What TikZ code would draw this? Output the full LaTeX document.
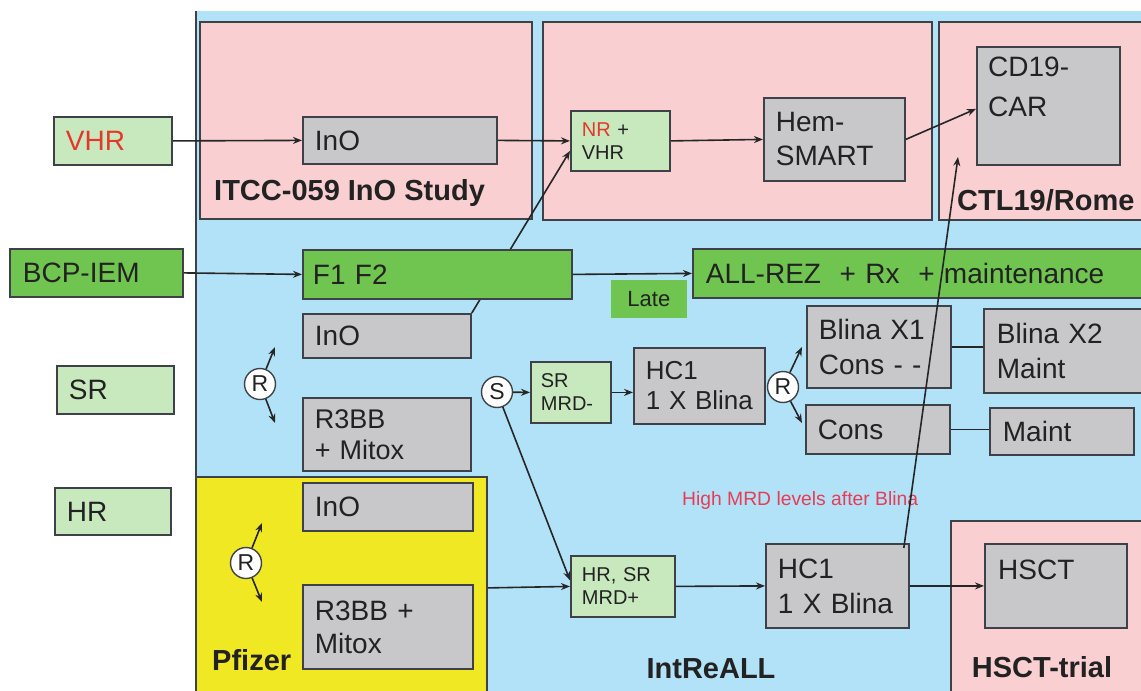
\documentclass[tikz,border=0pt]{standalone}
\usepackage{fontspec}
\setmainfont{Liberation Sans}
\usetikzlibrary{arrows.meta,calc}
\pgfdeclarelayer{back}
\pgfdeclarelayer{mid}
\pgfsetlayers{back,mid,main}
\definecolor{bgblue}{RGB}{178,226,247}
\definecolor{pinkc}{RGB}{250,207,209}
\definecolor{boxgray}{RGB}{200,200,202}
\definecolor{lgreen}{RGB}{200,232,190}
\definecolor{dgreen}{RGB}{112,196,80}
\definecolor{yellowc}{RGB}{240,232,34}
\definecolor{edge}{RGB}{62,66,72}
\definecolor{txt}{RGB}{34,34,34}
\definecolor{redt}{RGB}{230,55,45}
\definecolor{redm}{RGB}{232,60,85}
\begin{document}
\begin{tikzpicture}[x=1pt,y=-1pt,
  base/.style={draw=edge, line width=1.8pt, inner xsep=12pt, inner ysep=0pt,
    align=left, anchor=north west, text=txt, font=\fontsize{28}{34}\selectfont},
  graybox/.style={base, fill=boxgray},
  lgbox/.style={base, fill=lgreen},
  dgbox/.style={base, fill=dgreen},
  smalltxt/.style={inner xsep=11pt, font=\fontsize{20}{23}\selectfont},
  cont/.style={draw=edge, line width=1.8pt, anchor=north west, inner sep=0pt},
  circ/.style={circle, draw=edge, fill=white, line width=1.4pt, minimum size=31pt,
    inner sep=0pt, text=txt, font=\fontsize{23}{23}\selectfont},
  arr/.style={-{Stealth[length=9pt,width=7pt]}, line width=1.6pt, draw=black!85},
  ln/.style={line width=1.6pt, draw=black!85},
  lbl/.style={font=\bfseries\fontsize{29}{34}\selectfont, text=txt, inner sep=0pt},
  toplbl/.style={anchor=north west, align=left, text=txt, inner xsep=12pt,
    font=\fontsize{28}{34}\selectfont}
]
\useasboundingbox (0,0) rectangle (1141,691);

% ---------- containers ----------
\begin{pgfonlayer}{back}
\fill[bgblue] (196,11) rectangle (1141,691);
\draw[edge, line width=2.4pt] (196,11) -- (196,691);
\node[cont, fill=pinkc, minimum width=332pt, minimum height=197pt] (itcc) at (199,21) {};
\node[cont, fill=pinkc, minimum width=389pt, minimum height=198pt] (hem) at (542,21) {};
\node[cont, fill=pinkc, minimum width=210pt, minimum height=198pt] (ctl) at (938,21) {};
\node[cont, fill=yellowc, minimum width=291pt, minimum height=222pt] (pfz) at (195,476) {};
\node[cont, fill=pinkc, minimum width=200pt, minimum height=180pt] (hsctt) at (950,520) {};
\end{pgfonlayer}

% ---------- labels of containers ----------
\node[lbl, anchor=base west] (itccl) at (214,200) {ITCC-059 InO Study};
\node[lbl, anchor=base west] (ctll) at (957,210) {CTL19/Rome};
\node[lbl, anchor=base west] (pfl) at (212,670) {Pfizer};
\node[lbl, anchor=base] (intl) at (711,678) {IntReALL};
\node[lbl, anchor=base] (hsctl) at (1042,677) {HSCT-trial};
\node[anchor=base west, inner sep=0pt, text=redm, font=\fontsize{19.3}{21}\selectfont] (mrd) at (682,505) {High MRD levels after Blina};

% ---------- boxes ----------
\node[lgbox, minimum width=118pt, minimum height=48pt, text width=94pt] (vhr) at (53,116) {\color{redt}VHR};
\node[graybox, minimum width=194pt, minimum height=47pt, text width=170pt] (ino1) at (302,116) {InO};
\node[lgbox, smalltxt, minimum width=99pt, minimum height=60pt, text width=77pt] (nrvhr) at (570,110) {{\color{redt}NR} +\\VHR};
\node[graybox, minimum width=141pt, minimum height=83pt, text width=117pt] (hems) at (763,97) {Hem-\\SMART};
\node[graybox, minimum width=143pt, minimum height=118pt,
  label={[toplbl, inner ysep=11pt]north west:CD19-\\[6pt]CAR}] (cd19) at (976,46) {};

\node[dgbox, minimum width=173pt, minimum height=48pt, text width=147pt, inner xsep=13pt] (bcp) at (9,248) {BCP-IEM};
\node[dgbox, minimum width=269pt, minimum height=49pt, text width=249pt, inner xsep=10pt] (f1f2) at (302,249) {F1 F2};
\node[dgbox, minimum width=460pt, minimum height=49pt, text width=434pt, inner xsep=13pt] (allrez) at (692,248) {ALL-REZ\ \ + Rx\ \ + maintenance};
\node[dgbox, draw=none, minimum width=76pt, minimum height=38pt, text width=76pt, inner xsep=0pt,
  align=center, font=\fontsize{22}{24}\selectfont] (late) at (610,279) {Late};

\node[graybox, minimum width=168pt, minimum height=44pt, text width=144pt] (ino2) at (302,313) {InO};
\node[lgbox, minimum width=117pt, minimum height=48pt, text width=93pt] (sr) at (56,365) {SR};
\node[circ] (r1) at (260,384) {R};
\node[graybox, minimum width=168pt, minimum height=73pt, text width=144pt,
  font=\fontsize{27}{31}\selectfont] (r3bb1) at (302,397) {R3BB\\+ Mitox};

\node[circ] (s) at (497,392) {S};
\node[lgbox, smalltxt, inner xsep=10pt, minimum width=80pt, minimum height=61pt, text width=60pt] (srm) at (530,361) {SR\\MRD-};
\node[graybox, minimum width=131pt, minimum height=76pt, text width=107pt,
  font=\fontsize{26}{30}\selectfont] (hc1a) at (633,347) {HC1\\1 X Blina};
\node[circ] (r2) at (783,387) {R};
\node[graybox, minimum width=144pt, minimum height=82pt, text width=120pt,
  font=\fontsize{28}{35}\selectfont] (bx1) at (806,305) {Blina X1\\Cons - -};
\node[graybox, minimum width=165pt, minimum height=84pt, text width=139pt, inner xsep=13pt,
  font=\fontsize{28}{35}\selectfont] (bx2) at (983,308) {Blina X2\\Maint};
\node[graybox, minimum width=144pt, minimum height=49pt, text width=120pt] (cons) at (805,404) {Cons};
\node[graybox, minimum width=144pt, minimum height=47pt, text width=118pt, inner xsep=13pt] (maint) at (989,407) {Maint};

\node[lgbox, minimum width=116pt, minimum height=47pt, text width=92pt] (hr) at (54,487) {HR};
\node[graybox, minimum width=170pt, minimum height=48pt, text width=146pt] (ino3) at (302,482) {InO};
\node[circ] (r3) at (246,563) {R};
\node[graybox, minimum width=170pt, minimum height=84pt, text width=146pt,
  font=\fontsize{28}{33}\selectfont] (r3bb2) at (302,584) {R3BB +\\Mitox};

\node[lgbox, smalltxt, minimum width=104pt, minimum height=61pt, text width=82pt] (hrm) at (570,555) {HR, SR\\MRD+};
\node[graybox, minimum width=143pt, minimum height=84pt, text width=119pt,
  font=\fontsize{28}{35}\selectfont] (hc1b) at (765,543) {HC1\\1 X Blina};
\node[graybox, minimum width=142pt, minimum height=84pt,
  label={[toplbl, inner xsep=14pt, inner ysep=17pt]north west:HSCT}] (hsct) at (984,543) {};

% ---------- free ends ----------
\coordinate (r1u) at (275,347);
\coordinate (r1d) at (275,423);
\coordinate (r2u) at (802,347);
\coordinate (r2d) at (802,423);
\coordinate (r3u) at (262,523);
\coordinate (r3d) at (262,602);
\coordinate (ctlt) at (958,157);

% ---------- connectors ----------
\begin{pgfonlayer}{mid}
\draw[arr] (ino2.north east) -- ([yshift=-10pt]nrvhr.west);
\end{pgfonlayer}
\draw[arr] (vhr.east) -- (ino1.west);
\draw[arr] (ino1.east) -- (nrvhr.west);
\draw[arr] (nrvhr.east) -- (hems.west);
\draw[arr] (hems.east) -- ([yshift=-3pt]cd19.west);
\draw[arr] (bcp.east) -- (f1f2.west);
\draw[arr] (f1f2.east) -- (allrez.west);
\draw[arr] (r1) -- (r1u);
\draw[arr] (r1) -- (r1d);
\draw[arr] (s) -- (srm.west);
\draw[arr] (srm.east) -- (srm.east -| hc1a.west);
\draw[arr] (s) -- ([yshift=6pt]hrm.west);
\draw[arr] (r2) -- (r2u);
\draw[arr] (r2) -- (r2d);
\draw[ln] (bx1.east) -- (bx1.east -| bx2.west);
\draw[ln] (cons.east) -- (cons.east -| maint.west);
\draw[arr] (r3) -- (r3u);
\draw[arr] (r3) -- (r3d);
\draw[arr] (pfz.east) -- (hrm.west);
\draw[arr] (hrm.east) -- (hc1b.west);
\draw[arr] (hc1b.east) -- (hsct.west);
\draw[arr] ([xshift=-6pt,yshift=-5pt]hc1b.north east) -- (ctlt);
\end{tikzpicture}
\end{document}
